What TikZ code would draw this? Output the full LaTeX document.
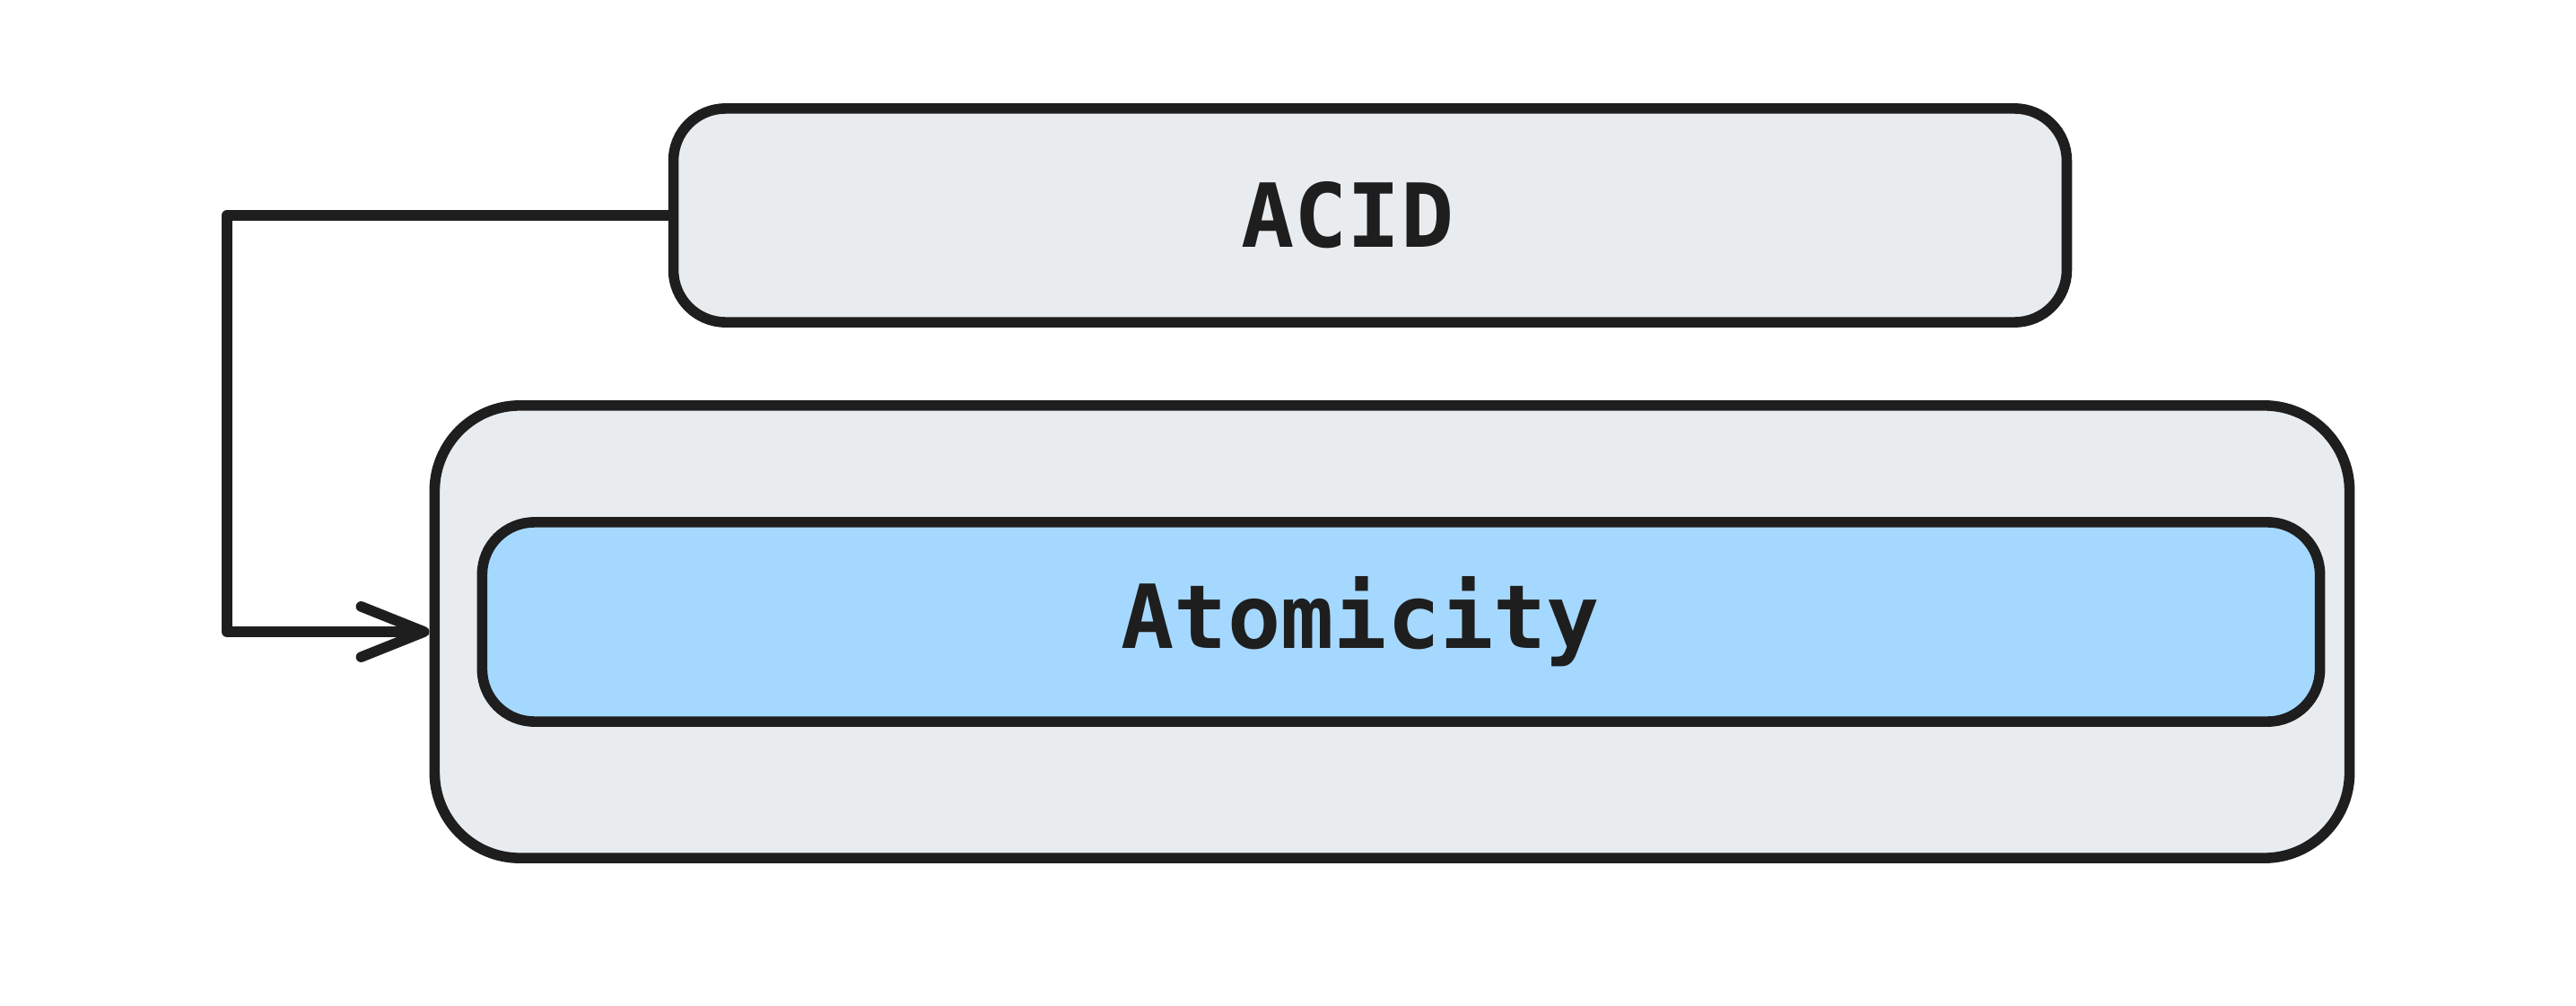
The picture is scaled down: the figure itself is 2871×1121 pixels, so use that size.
\documentclass[tikz,border=0pt]{standalone}
\usepackage{fontspec}
\setmonofont{DejaVu Sans Mono}
\usetikzlibrary{positioning}
\usetikzlibrary{arrows.meta}
\definecolor{strokegray}{HTML}{1E1E1E}
\definecolor{boxgray}{HTML}{E9ECEF}
\definecolor{boxblue}{HTML}{A5D8FF}
\tikzstyle{box} = [draw=strokegray, fill=boxgray, line width=3.3pt,
rounded corners=0.58cm, text=strokegray,
font=\ttfamily\bfseries\fontsize{28}{34}\selectfont]
\tikzstyle{line} = [draw=strokegray, line width=3.3pt, line cap=round,
line join=round, -{Straight Barb[round,length=20pt,width=16pt]}]

\begin{document}
\begin{tikzpicture}[x=0.01cm, y=-0.01cm]
    \useasboundingbox (0,0) rectangle (2871,1121);
    %% Vertices
    \node [box, minimum width=15.52cm, minimum height=2.38cm] at (1527,240) (ACID) {ACID\kern0.5cm};
    \node [box, rounded corners=0.95cm, minimum width=21.33cm, minimum height=5.04cm] at (1551.5,704) (Outer) {};
    \node [box, fill=boxblue, minimum width=20.47cm, minimum height=2.22cm] at (1561.5,693) (Atom) {Atomicity\kern0.9cm};
    %% Arcs
    \coordinate (Bend) at (253,240);
    \path [line] (ACID.west) -- (Bend) -- (Bend |- Outer.west) -- (Outer.west);
\end{tikzpicture}
\end{document}
